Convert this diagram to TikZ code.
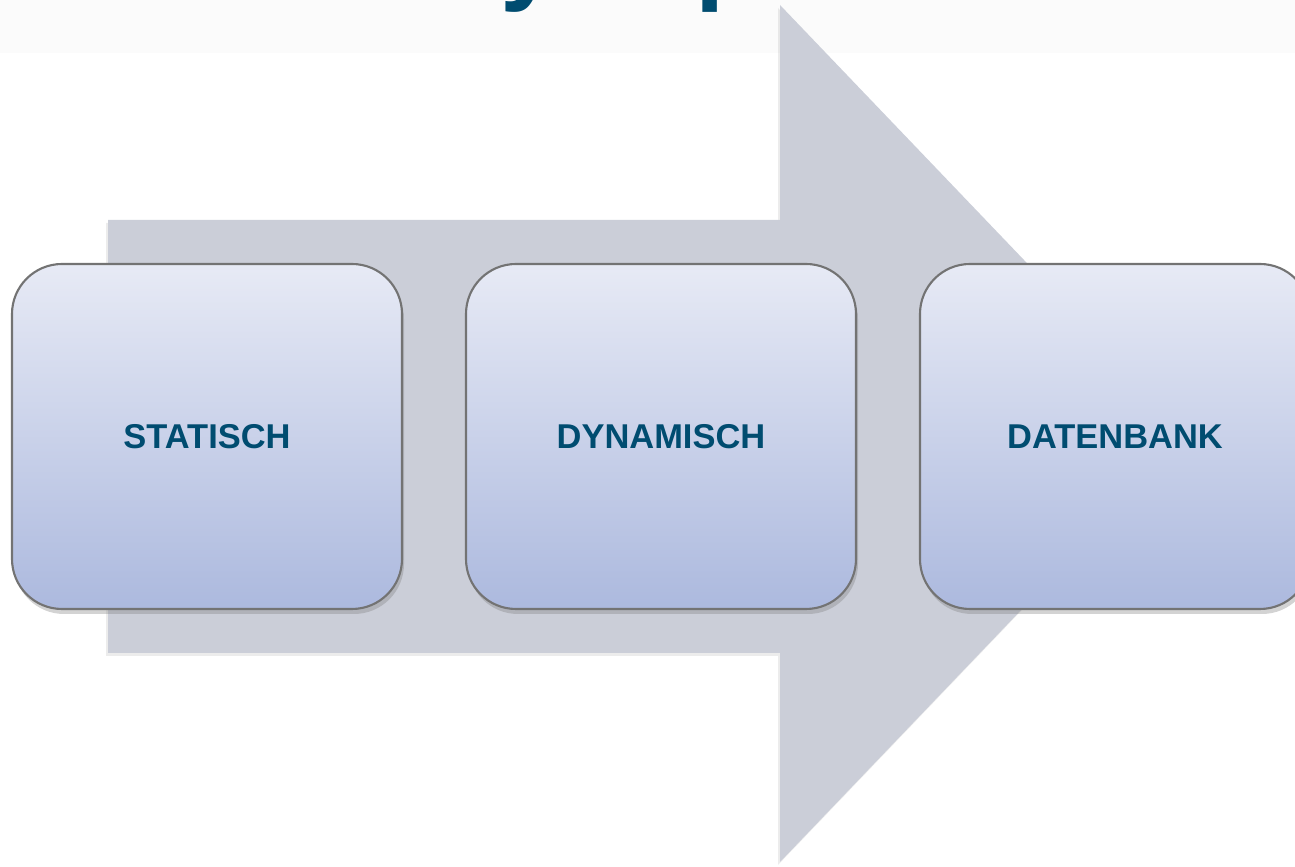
\documentclass[tikz,border=0pt]{standalone}
\usepackage{fontspec}
\setmainfont{Liberation Sans}
\usetikzlibrary{shadows}

\definecolor{arrowgray}{RGB}{203,206,216}
\definecolor{boxtop}{RGB}{231,234,245}
\definecolor{boxbottom}{RGB}{172,185,222}
\definecolor{labelblue}{RGB}{0,76,112}
\definecolor{bandgray}{RGB}{251,251,251}

\begin{document}
\begin{tikzpicture}[
          box/.style={draw=black!55, line width=0.6pt, rounded corners=0.5cm,
            minimum width=3.9cm, minimum height=3.45cm,
            top color=boxtop, bottom color=boxbottom,
            drop shadow={shadow xshift=0.02cm, shadow yshift=-0.05cm, opacity=0.35},
            font=\fontsize{9.8}{12}\selectfont\bfseries, text=labelblue},
          title/.style={anchor=base west, inner sep=0pt, text=labelblue,
            font=\fontsize{30}{36}\selectfont\bfseries}
        ]
          \useasboundingbox (0, 0) rectangle (12.95, -8.67);
          \fill [bandgray] (0, 0) rectangle (12.95, -0.53);

          % title above, only the descenders reach into the page
          \node (t1) at (5.00, 0.095) [title] {y};
          \node (t2) at (6.95, 0.095) [title] {p};

          % big arrow behind the boxes
          \fill [arrowgray, drop shadow={shadow xshift=-0.02cm, shadow yshift=-0.03cm, opacity=0.15}]
            (1.08, -2.20) -- (7.80, -2.20) -- (7.80, -0.05) -- (11.90, -4.335)
            -- (7.80, -8.62) -- (7.80, -6.53) -- (1.08, -6.53) -- cycle;

          \node (s1) at (2.07, -4.365)  [box] {STATISCH};
          \node (s2) at (6.61, -4.365)  [box] {DYNAMISCH};
          \node (s3) at (11.15, -4.365) [box] {DATENBANK};
        \end{tikzpicture}
\end{document}
